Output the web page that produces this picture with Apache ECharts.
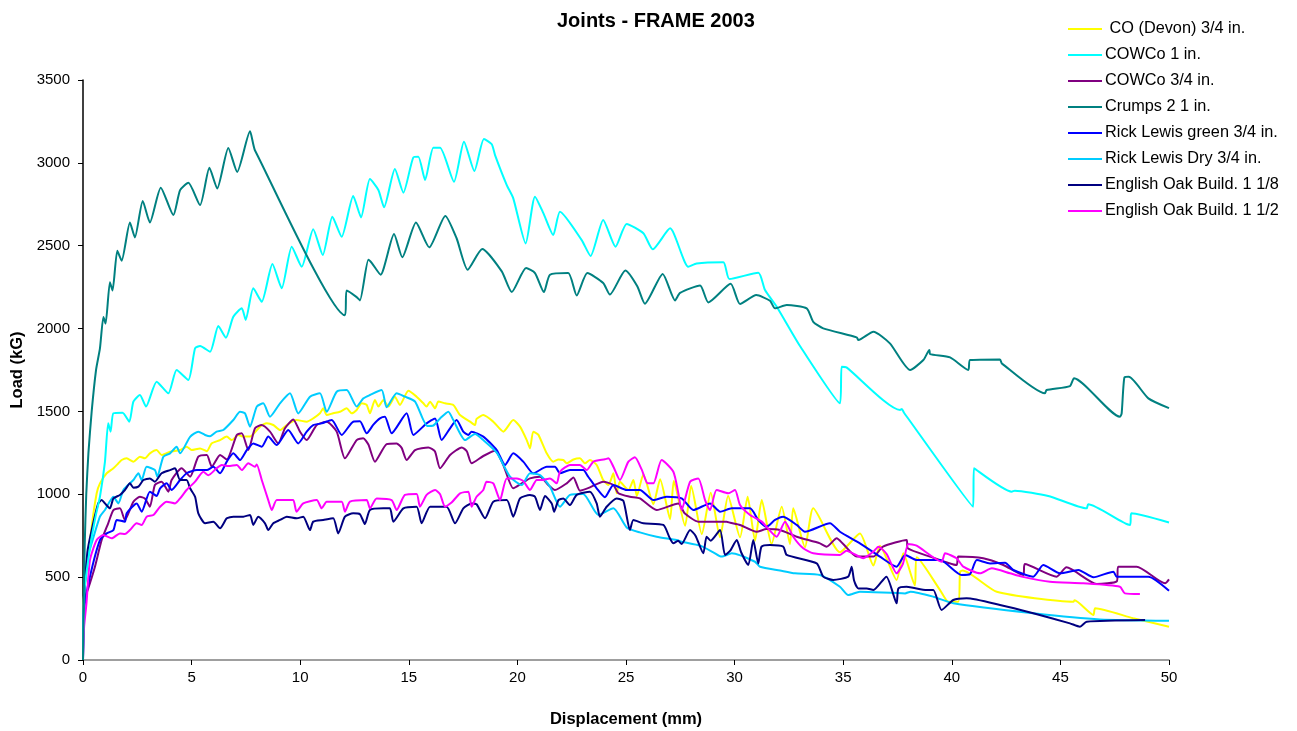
<!DOCTYPE html>
<html>
<head>
<meta charset="utf-8">
<script src="https://cdn.jsdelivr.net/npm/echarts@6/dist/echarts.min.js"></script>
<style>
html,body{margin:0;padding:0;background:#fff;}
#chart{width:1297px;height:731px;}
</style>
</head>
<body>
<div id="chart"></div>
<script>
const seriesNames = [' CO (Devon) 3/4 in.', 'COWCo 1 in.', 'COWCo 3/4 in.', 'Crumps 2 1 in.', 'Rick Lewis green 3/4 in.', 'Rick Lewis Dry 3/4 in.', 'English Oak Build. 1 1/8', 'English Oak Build. 1 1/2'];
const seriesColors = ['#FFFF00', '#00FFFF', '#800080', '#008080', '#0000FF', '#00CCFF', '#000080', '#FF00FF'];
const xTicks = [0, 5, 10, 15, 20, 25, 30, 35, 40, 45, 50];
const yTicks = [0, 500, 1000, 1500, 2000, 2500, 3000, 3500];

const coDevon = [[0,0],[0.03,360],[0.4,804],[0.63,1006],[0.78,1066],[1.09,1127],[1.4,1157],[1.63,1187],[1.78,1207],[2.01,1217],[2.32,1197],[2.62,1227],[2.85,1217],[3.08,1247],[3.39,1267],[3.62,1237],[4.01,1257],[4.47,1267],[4.77,1287],[5.0,1267],[5.39,1277],[5.7,1260],[5.92,1307],[6.31,1327],[6.62,1348],[6.85,1327],[7.15,1358],[7.38,1348],[7.69,1348],[8.15,1408],[8.46,1428],[8.76,1418],[9.07,1388],[9.38,1418],[9.83,1448],[10.3,1438],[10.6,1458],[10.91,1489],[11.06,1519],[11.22,1478],[11.52,1489],[11.83,1498],[12.14,1519],[12.37,1489],[12.6,1509],[12.83,1549],[13.06,1540],[13.21,1489],[13.44,1569],[13.6,1530],[13.83,1569],[14.06,1529],[14.36,1589],[14.59,1539],[14.98,1625],[15.36,1589],[15.67,1549],[15.82,1529],[15.98,1559],[16.21,1519],[16.36,1560],[16.67,1549],[17.05,1539],[17.36,1478],[17.82,1438],[18.05,1418],[18.12,1455],[18.43,1478],[18.89,1438],[19.35,1378],[19.81,1448],[20.12,1408],[20.43,1327],[20.58,1277],[20.73,1378],[20.96,1360],[21.35,1247],[21.65,1197],[21.89,1210],[22.11,1207],[22.27,1187],[22.58,1210],[22.88,1217],[23.11,1187],[23.34,1207],[23.65,1177],[23.95,1086],[24.19,1056],[24.42,1127],[24.57,1006],[24.72,1076],[25.11,1026],[25.34,1086],[25.5,990],[25.8,1120],[26.26,940],[26.57,1090],[27.03,850],[27.2,1080],[27.72,810],[28.0,1050],[28.49,760],[28.9,1010],[29.33,740],[29.7,990],[30.25,740],[30.6,985],[30.94,720],[31.25,965],[31.7,700],[32.17,925],[32.55,700],[32.7,915],[33.24,680],[33.62,915],[34.85,650],[35.77,764],[36.39,570],[36.69,690],[37.46,483],[37.77,644],[38.3,450],[38.39,620],[39.46,422],[39.84,352],[40.3,352],[40.38,533],[40.5,540],[42.07,412],[45.6,352],[45.65,360],[46.52,272],[46.6,312],[48.35,252],[50,201]];

const cowco1 = [[0,0],[0.05,400],[0.35,700],[0.6,880],[0.78,985],[1.01,1196],[1.16,1428],[1.27,1378],[1.4,1489],[1.82,1492],[2.13,1438],[2.32,1559],[2.62,1599],[2.9,1529],[3.39,1679],[3.93,1609],[4.31,1750],[4.85,1690],[5.16,1881],[5.39,1895],[5.85,1860],[6.23,2015],[6.58,1945],[6.92,2071],[7.31,2122],[7.49,2052],[7.84,2243],[8.23,2162],[8.72,2389],[9.15,2243],[9.61,2494],[10.07,2373],[10.6,2599],[11.04,2444],[11.48,2675],[11.91,2554],[12.44,2800],[12.8,2671],[13.21,2902],[13.6,2836],[13.86,2732],[14.36,2963],[14.75,2820],[15.21,3033],[15.44,3037],[15.75,2896],[16.13,3091],[16.44,3091],[17.08,2886],[17.54,3128],[18.02,2951],[18.46,3144],[18.82,3112],[18.97,3047],[19.51,2866],[19.81,2786],[20.38,2514],[20.81,2796],[21.2,2695],[21.65,2564],[21.96,2705],[22.96,2534],[23.37,2438],[23.95,2655],[24.52,2494],[25.03,2631],[25.8,2575],[26.23,2478],[27.03,2605],[27.87,2373],[28.25,2393],[29.48,2400],[29.76,2299],[31.09,2337],[31.4,2233],[31.94,2132],[33.01,1895],[34.85,1549],[34.93,1770],[35.15,1766],[37.62,1509],[37.7,1515],[37.8,1492],[40.98,925],[41.02,1157],[42.76,1016],[42.9,1022],[44.44,990],[46.21,915],[46.28,940],[48.2,815],[48.27,885],[50,830]];

const cowco34 = [[0,0],[0.05,350],[0.32,463],[0.55,563],[0.86,724],[1.16,825],[1.4,905],[1.7,915],[1.93,845],[2.32,955],[2.62,985],[2.85,975],[3.08,925],[3.31,1056],[3.62,1076],[3.93,1016],[4.08,1086],[4.54,1157],[4.93,1106],[5.31,1227],[5.7,1237],[5.93,1166],[6.31,1237],[6.62,1210],[7.08,1358],[7.31,1368],[7.61,1267],[7.92,1398],[8.23,1418],[8.61,1378],[8.99,1307],[9.3,1398],[9.68,1452],[9.99,1378],[10.3,1327],[10.76,1418],[11.22,1438],[11.68,1378],[12.06,1217],[12.6,1327],[12.9,1338],[13.14,1300],[13.44,1197],[13.98,1303],[14.44,1307],[14.67,1280],[14.9,1207],[15.29,1267],[15.9,1283],[16.2,1260],[16.44,1157],[16.9,1237],[17.44,1283],[17.67,1260],[17.89,1187],[18.43,1231],[18.97,1263],[19.35,1177],[19.81,1036],[20.2,1066],[20.58,1096],[21.04,1106],[21.42,1056],[21.73,1026],[22.27,1066],[22.58,1102],[22.88,1022],[23.34,1042],[23.95,1076],[24.42,1056],[24.65,1006],[25.18,985],[25.64,975],[26.41,905],[27.41,945],[27.7,885],[28.33,835],[29.63,835],[29.8,828],[30.25,815],[31.01,774],[31.47,790],[32.09,784],[32.86,744],[33.93,704],[34.24,684],[34.7,734],[35.0,700],[35.62,624],[36.39,624],[36.83,684],[37.92,724],[37.97,674],[38.99,624],[40.22,573],[40.3,624],[41.45,614],[42.37,573],[43.29,513],[43.36,579],[44.83,503],[45.28,559],[46.67,459],[47.6,475],[47.66,563],[48.51,563],[49.82,463],[50,487]];

const crumps = [[0,0],[0.03,350],[0.08,700],[0.15,1000],[0.25,1250],[0.4,1500],[0.6,1750],[0.78,1880],[0.94,2070],[1.04,2030],[1.24,2280],[1.36,2230],[1.58,2470],[1.78,2410],[2.16,2640],[2.39,2550],[2.75,2770],[3.08,2640],[3.58,2850],[4.16,2685],[4.47,2835],[4.85,2880],[5.39,2745],[5.82,2970],[6.18,2845],[6.69,3090],[7.1,2945],[7.69,3190],[7.92,3075],[12.06,2080],[12.14,2230],[12.6,2190],[12.75,2170],[13.14,2415],[13.3,2395],[13.7,2325],[14.32,2570],[14.7,2430],[15.33,2640],[15.94,2490],[16.68,2680],[17.2,2545],[17.71,2355],[18.38,2480],[19.28,2345],[19.74,2220],[20.4,2365],[20.81,2335],[21.22,2220],[21.5,2325],[22.34,2335],[22.73,2200],[23.22,2335],[23.95,2275],[24.26,2205],[24.97,2350],[25.52,2255],[25.87,2150],[26.69,2330],[27.26,2170],[27.49,2215],[28.41,2260],[28.79,2158],[29.82,2270],[30.25,2148],[31.0,2202],[31.63,2168],[31.86,2122],[32.4,2142],[33.32,2122],[33.62,2041],[34.08,2001],[35.62,1947],[35.7,1931],[36.39,1981],[37.15,1911],[38.08,1750],[38.69,1810],[38.97,1871],[39.0,1846],[39.92,1826],[40.76,1750],[40.84,1810],[42.22,1814],[42.3,1790],[44.29,1609],[44.36,1629],[45.44,1653],[45.63,1700],[47.74,1468],[47.82,1488],[47.95,1706],[48.15,1709],[49.05,1579],[50,1520]];

const rickGreen = [[0,0],[0.05,300],[0.32,503],[0.78,724],[1.09,764],[1.4,784],[1.55,845],[1.93,835],[2.01,885],[2.47,945],[2.7,895],[3.08,1016],[3.39,990],[3.55,1036],[3.85,1066],[4.08,1026],[4.47,1086],[4.77,1127],[5.24,1146],[5.7,1146],[6.0,1166],[6.31,1127],[6.62,1197],[6.92,1247],[7.23,1207],[7.54,1267],[7.84,1307],[8.23,1287],[8.53,1348],[8.92,1297],[9.45,1388],[9.91,1307],[10.3,1378],[10.6,1418],[10.99,1428],[11.45,1448],[11.91,1358],[12.44,1438],[12.75,1440],[13.06,1368],[13.37,1420],[13.67,1458],[13.9,1468],[14.21,1368],[14.9,1489],[15.21,1358],[15.82,1428],[16.21,1458],[16.51,1327],[16.9,1398],[17.2,1448],[17.51,1378],[17.74,1358],[17.89,1378],[18.43,1348],[19.05,1267],[19.43,1177],[19.81,1247],[20.27,1197],[20.73,1127],[21.35,1166],[21.73,1166],[21.96,1127],[22.42,1146],[23.03,1146],[23.26,1106],[23.65,1036],[24.03,982],[24.42,1056],[25.03,1026],[25.64,1026],[26.26,965],[26.87,985],[27.56,975],[28.1,905],[28.87,945],[29.33,895],[29.87,915],[30.71,915],[31.09,845],[31.47,804],[31.86,845],[32.24,865],[32.86,815],[33.24,774],[34.39,825],[34.85,774],[35.77,704],[36.69,624],[37.46,563],[37.85,634],[38.39,603],[39.46,603],[40.45,513],[40.84,518],[41.15,603],[41.76,583],[42.45,587],[42.83,543],[43.75,503],[44.21,573],[44.98,523],[45.83,543],[46.52,499],[47.44,533],[47.59,503],[49.05,503],[50,418]];

const rickDry = [[0,0],[0.05,350],[0.18,600],[0.4,704],[0.78,865],[1.01,905],[1.4,985],[1.63,945],[1.86,1026],[2.32,1086],[2.55,1127],[2.7,1086],[2.93,1166],[3.31,1146],[3.42,1106],[3.7,1227],[4.01,1247],[4.31,1287],[4.47,1247],[4.93,1347],[5.31,1378],[5.62,1358],[5.85,1350],[6.15,1378],[6.46,1388],[6.92,1448],[7.23,1498],[7.46,1488],[7.69,1408],[8.0,1529],[8.3,1549],[8.61,1468],[9.07,1549],[9.53,1609],[9.91,1488],[10.45,1589],[10.91,1609],[11.22,1498],[11.68,1619],[12.14,1629],[12.6,1529],[12.91,1579],[13.21,1599],[13.75,1629],[13.98,1525],[14.44,1609],[14.82,1589],[15.29,1559],[15.85,1412],[16.13,1415],[16.44,1458],[16.82,1498],[17.05,1448],[17.59,1327],[18.05,1364],[18.43,1327],[19.05,1251],[19.66,1106],[20.2,1056],[20.58,1127],[21.04,1116],[21.5,1046],[21.96,925],[22.42,996],[23.03,1002],[23.73,875],[24.42,915],[25.03,800],[25.64,770],[26.41,744],[27.33,724],[27.56,714],[28.41,690],[29.02,650],[29.4,624],[29.87,644],[30.94,593],[31.17,563],[32.09,540],[32.78,523],[33.93,513],[34.85,442],[35.23,392],[35.77,412],[37.85,402],[38.1,412],[39.15,382],[40.07,342],[43.75,282],[46.82,245],[50,237]];

const oak118 = [[0,0],[0.05,350],[0.2,650],[0.4,785],[0.7,945],[0.86,965],[1.01,945],[1.24,915],[1.4,975],[1.7,996],[1.93,1026],[2.16,1066],[2.32,1040],[2.55,1046],[2.78,1086],[3.08,1096],[3.31,1076],[3.62,1127],[4.01,1146],[4.24,1157],[4.47,1086],[4.77,1086],[4.93,1036],[5.16,985],[5.31,885],[5.62,825],[6.0,835],[6.31,795],[6.62,855],[6.92,865],[7.38,865],[7.69,875],[7.84,815],[8.07,865],[8.38,825],[8.53,784],[8.76,825],[9.07,845],[9.38,865],[9.84,855],[10.14,865],[10.45,784],[10.6,835],[11.06,845],[11.52,855],[11.75,764],[12.06,865],[12.44,885],[12.75,880],[12.98,820],[13.21,905],[13.83,915],[14.13,915],[14.29,835],[14.75,915],[15.36,925],[15.59,825],[15.98,925],[16.74,925],[17.13,825],[17.51,915],[17.89,945],[18.12,940],[18.51,855],[18.89,955],[19.51,965],[19.81,865],[20.12,975],[20.58,996],[20.81,985],[21.04,905],[21.27,990],[21.58,945],[21.69,895],[21.89,965],[22.11,975],[22.42,935],[22.73,996],[23.34,1016],[23.65,945],[23.8,865],[24.11,925],[24.57,975],[24.88,960],[25.18,784],[25.34,845],[25.8,825],[26.72,815],[27.0,740],[27.18,704],[27.4,720],[27.56,700],[27.95,784],[28.2,750],[28.56,644],[28.71,744],[28.9,720],[29.33,784],[29.56,634],[29.8,660],[30.1,724],[30.3,650],[30.63,573],[30.86,724],[31.09,583],[31.24,684],[31.63,694],[32.24,684],[32.4,634],[33.78,583],[34.08,503],[34.54,483],[35.23,503],[35.39,563],[35.5,480],[35.7,432],[36.08,432],[36.39,422],[36.99,503],[37.46,342],[37.54,432],[37.92,442],[38.84,422],[39.15,422],[39.53,302],[40.07,362],[40.68,372],[42.22,332],[43.75,282],[45.44,221],[45.9,201],[46.21,231],[48.9,241]];

const oak112 = [[0,0],[0.05,200],[0.16,342],[0.32,603],[0.63,724],[0.94,754],[1.32,734],[1.7,764],[1.93,760],[2.16,784],[2.47,825],[2.7,815],[2.93,865],[3.24,875],[3.55,925],[3.85,955],[4.24,945],[4.47,975],[4.77,1026],[5.16,1076],[5.54,1136],[5.77,1115],[6.15,1157],[6.39,1177],[6.69,1170],[7.08,1177],[7.31,1146],[7.61,1187],[7.92,1166],[8.0,1180],[8.23,1086],[8.53,965],[8.69,905],[8.92,965],[9.38,965],[9.68,965],[9.83,895],[10.14,945],[10.76,965],[10.99,915],[11.22,955],[11.91,955],[12.06,895],[12.29,955],[13.06,965],[13.21,915],[13.52,975],[14.21,965],[14.44,905],[14.82,996],[15.36,1002],[15.51,925],[15.82,996],[16.21,1026],[16.44,1000],[16.67,925],[16.97,950],[17.36,1006],[17.74,1016],[17.89,925],[18.12,985],[18.43,1026],[18.58,1076],[18.89,1066],[19.2,965],[19.51,1096],[19.97,1096],[20.27,1080],[20.58,1026],[20.89,1086],[21.12,1086],[21.5,1096],[21.81,1066],[21.96,1136],[22.42,1177],[22.88,1177],[23.19,1146],[23.5,1197],[24.03,1211],[24.19,1217],[24.42,1166],[24.72,1086],[25.11,1197],[25.41,1223],[25.72,1150],[26.0,1066],[26.26,1066],[26.64,1207],[27.18,1136],[27.41,1006],[27.56,905],[27.95,1076],[28.33,1096],[28.64,965],[28.87,905],[29.17,1026],[29.71,1006],[30.02,1026],[30.25,935],[30.71,875],[31.25,835],[31.93,744],[32.32,835],[32.7,744],[33.16,674],[33.62,644],[34.85,634],[35.15,660],[35.93,614],[36.39,654],[36.62,684],[37.0,640],[37.46,523],[37.75,580],[38.0,700],[38.38,690],[39.53,593],[39.69,644],[40.22,614],[40.53,563],[41.3,523],[41.84,553],[42.68,523],[43.22,503],[44.52,472],[46.05,463],[47.74,442],[47.97,402],[48.66,398]];

const seriesData = [coDevon, cowco1, cowco34, crumps, rickGreen, rickDry, oak118, oak112];

const FONT = '"Liberation Sans", Arial, sans-serif';
const chart = echarts.init(document.getElementById('chart'), null, {renderer: 'canvas'});
chart.setOption({
  animation: false,
  backgroundColor: '#ffffff',
  title: {
    text: 'Joints - FRAME 2003',
    left: 552, top: 6,
    textStyle: {fontFamily: FONT, fontWeight: 'bold', fontSize: 20, color: '#000'}
  },
  legend: {
    orient: 'vertical',
    left: 1063, top: 16,
    itemWidth: 34, itemHeight: 2,
    itemGap: 10,
    icon: 'rect',
    textStyle: {fontFamily: FONT, fontSize: 16.3, color: '#000', padding: [0,0,0,-2]},
    data: seriesNames.map((n, i) => ({name: n, itemStyle: {color: seriesColors[i]}}))
  },
  grid: {left: 83, right: 128, top: 80, bottom: 71, containLabel: false, outerBoundsMode: 'none'},
  xAxis: {
    type: 'value', min: xTicks[0], max: xTicks[xTicks.length - 1], interval: 5,
    name: 'Displacement (mm)', nameLocation: 'middle', nameGap: 51,
    nameTextStyle: {fontFamily: FONT, fontWeight: 'bold', fontSize: 16.5, color: '#000'},
    axisLine: {lineStyle: {color: '#808080', width: 1.5}},
    axisTick: {show: true, length: 5, lineStyle: {color: '#000'}},
    axisLabel: {fontFamily: FONT, fontSize: 15, color: '#000', margin: 10, formatter: v => String(v)},
    splitLine: {show: false}
  },
  yAxis: {
    type: 'value', min: yTicks[0], max: yTicks[yTicks.length - 1], interval: 500,
    name: 'Load (kG)', nameLocation: 'middle', nameGap: 57, nameRotate: 90,
    nameTextStyle: {fontFamily: FONT, fontWeight: 'bold', fontSize: 16.5, color: '#000'},
    axisLine: {show: true, lineStyle: {color: '#000', width: 1.5}},
    axisTick: {show: true, length: 5, lineStyle: {color: '#000'}},
    axisLabel: {fontFamily: FONT, fontSize: 15, color: '#000', margin: 13, formatter: v => String(v)},
    splitLine: {show: false}
  },
  series: seriesNames.map((n, i) => ({
    name: n, type: 'line', data: seriesData[i],
    showSymbol: false, symbol: 'none', smooth: 0.2,
    lineStyle: {color: seriesColors[i], width: 2},
    itemStyle: {color: seriesColors[i]},
    z: 2 + (i === 3 || i === 1 ? 1 : 0)
  }))
});
</script>
</body>
</html>
